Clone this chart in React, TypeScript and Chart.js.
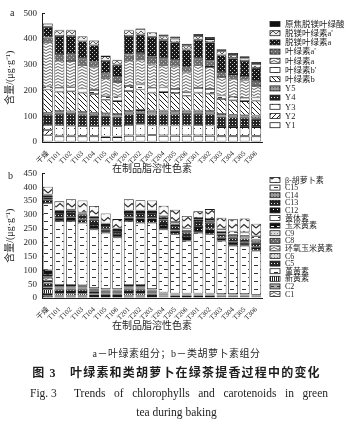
import React, { useEffect, useRef } from "react";
import { Chart, registerables } from "chart.js";
Chart.register(...registerables);

const FONT = "'Liberation Serif', 'Noto Sans CJK SC', serif";
const INK = "#1e1e1e";

const categories = ["干燥", "T101", "T102", "T103", "T104", "T105", "T106", "T201", "T202", "T203", "T204", "T205", "T206", "T301", "T302", "T303", "T304", "T305", "T306"];

const yMaxA = 500;
const yMaxB = 450;
const yStep = 50;

// Panel a: chlorophyll components (bottom -> top)
const Y1 = [26, 22, 22, 22, 22, 19, 19, 24, 24, 26, 24, 24, 24, 24, 24, 22, 22, 22, 22];
const Y2 = [20, 3, 3, 2, 2, 2, 2, 2, 2, 2, 2, 2, 2, 2, 2, 2, 2, 2, 2];
const Y3 = [20, 40, 38, 38, 38, 42, 40, 40, 42, 36, 38, 38, 38, 40, 38, 34, 34, 34, 34];
const Y4 = [40, 45, 46, 44, 42, 40, 38, 42, 44, 43, 44, 44, 45, 44, 44, 41, 38, 36, 32];
const Y5 = [8, 10, 10, 10, 10, 9, 10, 12, 12, 15, 14, 12, 13, 12, 12, 10, 10, 10, 13];
const chlB = [90, 76, 78, 76, 72, 52, 50, 78, 80, 70, 72, 70, 58, 70, 68, 58, 56, 55, 58];
const chlB2 = [12, 15, 16, 16, 16, 14, 18, 20, 20, 19, 18, 16, 13, 18, 18, 14, 14, 13, 12];
const chlA = [172, 105, 102, 92, 88, 70, 56, 98, 96, 90, 86, 88, 77, 90, 86, 72, 70, 67, 45];
const chlA2 = [18, 26, 26, 24, 22, 19, 24, 24, 26, 30, 26, 24, 19, 24, 24, 19, 18, 18, 19];
const pheoA = [42, 70, 72, 68, 64, 48, 44, 72, 72, 78, 72, 70, 71, 74, 72, 65, 62, 58, 51];
const pheoA2 = [12, 22, 21, 18, 18, 19, 17, 22, 22, 17, 14, 14, 14, 14, 12, 16, 12, 10, 15];
const pyroPheo = [2, 2, 2, 2, 2, 2, 2, 2, 2, 2, 8, 8, 8, 8, 8, 8, 8, 8, 8];

// Panel b: carotenoid components (bottom -> top)
const C1 = [8, 5, 5, 5, 4, 4, 4, 5, 5, 4, 3, 2, 2, 2, 2, 2, 2, 2, 2];
const C2 = [6, 4, 4, 4, 3, 3, 3, 4, 4, 3, 2, 2, 2, 2, 2, 1, 1, 1, 1];
const neoxanthin = [18, 8, 8, 8, 6, 5, 5, 8, 8, 5, 3, 3, 3, 3, 3, 3, 3, 3, 2];
const violaxanthin = [6, 5, 5, 5, 4, 4, 4, 5, 5, 4, 2, 2, 2, 2, 2, 2, 2, 2, 2];
const C5 = [15, 8, 8, 8, 6, 5, 5, 8, 8, 5, 3, 2, 2, 2, 2, 2, 2, 2, 2];
const C6 = [8, 4, 4, 4, 3, 3, 3, 4, 4, 3, 2, 1, 1, 1, 1, 1, 1, 1, 1];
const antheraxanthin = [12, 4, 4, 4, 3, 3, 3, 4, 4, 3, 2, 1, 1, 1, 1, 1, 1, 1, 1];
const C8 = [6, 3, 3, 3, 3, 2, 2, 3, 3, 2, 1, 1, 1, 1, 1, 1, 1, 1, 1];
const C9 = [4, 2, 2, 2, 2, 1, 1, 2, 2, 1, 1, 1, 1, 1, 1, 0, 0, 0, 0];
const zeaxanthin = [17, 4, 4, 3, 2, 2, 2, 4, 4, 2, 1, 1, 1, 1, 1, 1, 1, 1, 0];
const lutein = [243, 231, 231, 226, 212, 204, 187, 231, 225, 240, 228, 214, 191, 220, 214, 193, 175, 175, 159];
const C12 = [12, 12, 14, 12, 16, 12, 12, 13, 16, 16, 16, 14, 13, 20, 20, 11, 14, 12, 14];
const C13 = [9, 17, 19, 17, 20, 12, 11, 16, 19, 19, 20, 16, 16, 22, 22, 12, 16, 14, 16];
const C14 = [5, 4, 4, 4, 4, 4, 4, 4, 4, 4, 5, 6, 7, 5, 6, 8, 9, 10, 10];
const C15 = [5, 4, 4, 4, 5, 5, 5, 5, 5, 5, 6, 8, 8, 6, 7, 10, 12, 12, 12];
const betaCarotene = [28, 34, 38, 43, 39, 36, 34, 41, 37, 36, 38, 45, 45, 24, 36, 42, 44, 50, 45];

type Painter = (g: CanvasRenderingContext2D, w: number, h: number) => void;

function bg(g: CanvasRenderingContext2D, c: string, w: number, h: number) {
  g.fillStyle = c;
  g.fillRect(0, 0, w, h);
}
function seg(g: CanvasRenderingContext2D, pts: number[][], color: string, lw: number) {
  g.strokeStyle = color;
  g.lineWidth = lw;
  g.beginPath();
  pts.forEach((p, i) => (i === 0 ? g.moveTo(p[0], p[1]) : g.lineTo(p[0], p[1])));
  g.stroke();
}

const tiles: Record<string, [number, number, Painter]> = {
  white: [4, 4, (g, w, h) => bg(g, "#fff", w, h)],
  black: [4, 4, (g, w, h) => bg(g, "#111", w, h)],
  hatchF: [5, 5, (g, w, h) => {
    bg(g, "#fff", w, h);
    seg(g, [[0, 5], [5, 0]], "#222", 1);
    seg(g, [[-1, 1], [1, -1]], "#222", 1);
    seg(g, [[4, 6], [6, 4]], "#222", 1);
  }],
  hatchB: [5, 5, (g, w, h) => {
    bg(g, "#fff", w, h);
    seg(g, [[0, 0], [5, 5]], "#222", 1);
    seg(g, [[4, -1], [6, 1]], "#222", 1);
    seg(g, [[-1, 4], [1, 6]], "#222", 1);
  }],
  dotSparse: [6, 6, (g, w, h) => {
    bg(g, "#fff", w, h);
    g.fillStyle = "#333";
    g.fillRect(2, 2, 1, 1);
  }],
  darkCheck: [3, 3, (g, w, h) => {
    bg(g, "#242424", w, h);
    g.fillStyle = "#e6e6e6";
    g.fillRect(1, 1, 1, 1);
  }],
  darkCheck2: [4, 4, (g, w, h) => {
    bg(g, "#1a1a1a", w, h);
    g.fillStyle = "#cfcfcf";
    g.fillRect(0, 0, 1, 1);
    g.fillRect(2, 2, 1, 1);
  }],
  gray: [3, 3, (g, w, h) => {
    bg(g, "#999", w, h);
    g.fillStyle = "#555";
    g.fillRect(0, 0, 1, 1);
  }],
  grayDark: [4, 4, (g, w, h) => {
    bg(g, "#6c6c6c", w, h);
    g.fillStyle = "#bdbdbd";
    g.fillRect(1, 1, 1, 1);
    g.fillRect(3, 3, 1, 1);
  }],
  lightGray: [3, 3, (g, w, h) => {
    bg(g, "#d8d8d8", w, h);
    g.fillStyle = "#888";
    g.fillRect(1, 1, 1, 1);
  }],
  wavy: [8, 3, (g, w, h) => {
    bg(g, "#fff", w, h);
    seg(g, [[0, 1.5], [2, 0.5], [4, 1.5], [6, 2.5], [8, 1.5]], "#3a3a3a", 0.8);
  }],
  dash: [8, 5, (g, w, h) => {
    bg(g, "#fff", w, h);
    g.fillStyle = "#333";
    g.fillRect(2, 2, 4, 1);
  }],
  lutein: [12, 8, (g, w, h) => {
    bg(g, "#fff", w, h);
    g.fillStyle = "#333";
    g.fillRect(2, 1, 4, 1);
    g.fillRect(8, 5, 4, 1);
  }],
  zig: [6, 5, (g, w, h) => {
    bg(g, "#eee", w, h);
    seg(g, [[0, 4], [3, 1], [6, 4]], "#333", 0.8);
  }],
  zigBig: [8, 7, (g, w, h) => {
    bg(g, "#fafafa", w, h);
    seg(g, [[0, 5], [4, 1.5], [8, 5]], "#2a2a2a", 1.1);
  }],
  vstripe: [2, 2, (g, w, h) => {
    bg(g, "#fff", w, h);
    g.fillStyle = "#222";
    g.fillRect(0, 0, 1, 2);
  }],
  blackDot: [4, 4, (g, w, h) => {
    bg(g, "#111", w, h);
    g.fillStyle = "#fff";
    g.fillRect(1, 1, 1, 1);
  }],
  blackDash: [6, 4, (g, w, h) => {
    bg(g, "#111", w, h);
    g.fillStyle = "#eee";
    g.fillRect(1, 2, 3, 1);
  }],
  grayDash: [6, 4, (g, w, h) => {
    bg(g, "#aaa", w, h);
    g.fillStyle = "#333";
    g.fillRect(1, 2, 3, 1);
  }],
};

function makePattern(ctx: CanvasRenderingContext2D, kind: string): CanvasPattern | string {
  const t = tiles[kind];
  if (!t) return "#fff";
  const c = document.createElement("canvas");
  c.width = t[0];
  c.height = t[1];
  const g = c.getContext("2d")!;
  t[2](g, t[0], t[1]);
  return ctx.createPattern(c, "repeat") || "#fff";
}

const seriesA = [
  { label: "Y1", data: Y1, pat: "white" },
  { label: "Y2", data: Y2, pat: "hatchF" },
  { label: "Y3", data: Y3, pat: "dotSparse" },
  { label: "Y4", data: Y4, pat: "darkCheck" },
  { label: "Y5", data: Y5, pat: "gray" },
  { label: "叶绿素b", data: chlB, pat: "hatchB" },
  { label: "叶绿素b'", data: chlB2, pat: "dash" },
  { label: "叶绿素a", data: chlA, pat: "wavy" },
  { label: "叶绿素a'", data: chlA2, pat: "grayDark" },
  { label: "脱镁叶绿素a", data: pheoA, pat: "darkCheck2" },
  { label: "脱镁叶绿素a'", data: pheoA2, pat: "zig" },
  { label: "原焦脱镁叶绿酸", data: pyroPheo, pat: "black" },
];

const seriesB = [
  { label: "C1", data: C1, pat: "wavy" },
  { label: "C2", data: C2, pat: "grayDash" },
  { label: "新黄素", data: neoxanthin, pat: "vstripe" },
  { label: "堇黄素", data: violaxanthin, pat: "dash" },
  { label: "C5", data: C5, pat: "darkCheck" },
  { label: "C6", data: C6, pat: "lightGray" },
  { label: "环氧玉米黄素", data: antheraxanthin, pat: "wavy" },
  { label: "C8", data: C8, pat: "grayDark" },
  { label: "C9", data: C9, pat: "lightGray" },
  { label: "玉米黄素", data: zeaxanthin, pat: "blackDash" },
  { label: "黄体素", data: lutein, pat: "lutein" },
  { label: "C12", data: C12, pat: "blackDot" },
  { label: "C13", data: C13, pat: "darkCheck" },
  { label: "C14", data: C14, pat: "gray" },
  { label: "C15", data: C15, pat: "dash" },
  { label: "β-胡萝卜素", data: betaCarotene, pat: "zigBig" },
];

const patLegend = {
  id: "patLegend",
  afterDraw(chart: any, _args: any, opts: any) {
    const ctx: CanvasRenderingContext2D = chart.ctx;
    const ds = chart.data.datasets;
    ctx.save();
    ctx.font = `${opts.fontSize}px ${FONT}`;
    ctx.textBaseline = "middle";
    ctx.textAlign = "left";
    for (let k = 0; k < ds.length; k++) {
      const d = ds[ds.length - 1 - k];
      const y = opts.y0 + k * opts.dy;
      ctx.fillStyle = d.backgroundColor;
      ctx.fillRect(opts.x, y - opts.bh / 2, opts.bw, opts.bh);
      ctx.strokeStyle = INK;
      ctx.lineWidth = 0.8;
      ctx.strokeRect(opts.x, y - opts.bh / 2, opts.bw, opts.bh);
      ctx.fillStyle = INK;
      ctx.fillText(d.label, opts.x + opts.bw + 5, y + 0.5);
    }
    ctx.restore();
  },
};

function makeChart(
  canvas: HTMLCanvasElement,
  series: { label: string; data: number[]; pat: string }[],
  yMax: number,
  padTop: number,
  xHeight: number,
  legend: any
) {
  const ctx = canvas.getContext("2d")!;
  const datasets = series.map((s) => ({
    label: s.label,
    data: s.data,
    backgroundColor: makePattern(ctx, s.pat) as any,
    borderColor: "#1a1a1a",
    borderWidth: 0.8,
    borderSkipped: false as any,
    categoryPercentage: 1,
    barPercentage: 0.86,
  }));
  return new Chart(canvas, {
    type: "bar",
    data: { labels: categories, datasets },
    plugins: [patLegend as any],
    options: {
      animation: false,
      responsive: false,
      maintainAspectRatio: false,
      devicePixelRatio: 1,
      layout: { padding: { left: 0, right: 91, top: padTop, bottom: 0 } },
      plugins: {
        legend: { display: false },
        tooltip: { enabled: false },
        patLegend: legend,
      } as any,
      scales: {
        x: {
          stacked: true,
          grid: { display: false },
          border: { display: true, color: INK, width: 1 },
          ticks: {
            autoSkip: false,
            maxRotation: 45,
            minRotation: 45,
            padding: 0,
            color: INK,
            font: { family: FONT, size: 7, lineHeight: 1 },
          },
          title: {
            display: true,
            text: "在制品脂溶性色素",
            color: INK,
            padding: { top: 0, bottom: 0 },
            font: { family: FONT, size: 10 },
          },
          afterFit: (s: any) => {
            s.height = xHeight;
          },
        },
        y: {
          stacked: true,
          min: 0,
          max: yMax,
          ticks: {
            stepSize: yStep,
            padding: 8,
            color: INK,
            font: { family: FONT, size: 9 },
          },
          grid: { display: true, drawOnChartArea: false, drawTicks: true, tickLength: -3, color: INK, lineWidth: 1 },
          border: { display: true, color: INK, width: 1 },
          title: {
            display: true,
            text: "含量/(μg·g⁻¹)",
            color: INK,
            padding: { top: 4, bottom: 0 },
            font: { family: FONT, size: 10 },
          },
          afterFit: (s: any) => {
            s.width = 42;
          },
        },
      } as any,
    },
  });
}

export default function App() {
  const refA = useRef<HTMLCanvasElement>(null);
  const refB = useRef<HTMLCanvasElement>(null);

  useEffect(() => {
    const charts: Chart[] = [];
    if (refA.current) {
      charts.push(
        makeChart(refA.current, seriesA, yMaxA, 12, 33, {
          x: 270, y0: 24, dy: 9.2, bw: 10, bh: 5, fontSize: 8.5,
        })
      );
    }
    if (refB.current) {
      charts.push(
        makeChart(refB.current, seriesB, yMaxB, 12, 34, {
          x: 270, y0: 20, dy: 7.6, bw: 10, bh: 5, fontSize: 8,
        })
      );
    }
    return () => charts.forEach((c) => c.destroy());
  }, []);

  const center: React.CSSProperties = {
    position: "absolute",
    left: 0,
    width: 353,
    textAlign: "center",
    whiteSpace: "nowrap",
  };

  return (
    <div
      style={{
        position: "fixed",
        left: 0,
        top: 0,
        width: 353,
        height: 428,
        background: "#fff",
        overflow: "hidden",
        fontFamily: FONT,
        color: INK,
      }}
    >
      <canvas ref={refA} width={353} height={175} style={{ position: "absolute", left: 0, top: 0, width: 353, height: 175 }} />
      <canvas ref={refB} width={353} height={172} style={{ position: "absolute", left: 0, top: 160, width: 353, height: 172 }} />
      <div style={{ position: "absolute", left: 10, top: 7, fontSize: 10, lineHeight: "12px" }}>a</div>
      <div style={{ position: "absolute", left: 8, top: 170, fontSize: 10, lineHeight: "12px" }}>b</div>
      <div style={{ ...center, top: 348, fontSize: 10, lineHeight: "12px", letterSpacing: "0.5px" }}>
        a－叶绿素组分；b－类胡萝卜素组分
      </div>
      <div style={{ ...center, top: 366, fontSize: 12, lineHeight: "14px", fontWeight: 600, letterSpacing: "1.2px" }}>
        图 3　叶绿素和类胡萝卜在绿茶提香过程中的变化
      </div>
      <div style={{ position: "absolute", left: 30, top: 386, fontSize: 11.5, lineHeight: "14px", whiteSpace: "nowrap" }}>
        Fig. 3
      </div>
      <div
        style={{
          position: "absolute",
          left: 74,
          width: 254,
          top: 386,
          fontSize: 11.5,
          lineHeight: "14px",
          textAlign: "justify",
          textAlignLast: "justify" as any,
          whiteSpace: "nowrap",
        }}
      >
        Trends of chlorophylls and carotenoids in green
      </div>
      <div style={{ ...center, top: 405, fontSize: 11.5, lineHeight: "14px" }}>tea during baking</div>
    </div>
  );
}
